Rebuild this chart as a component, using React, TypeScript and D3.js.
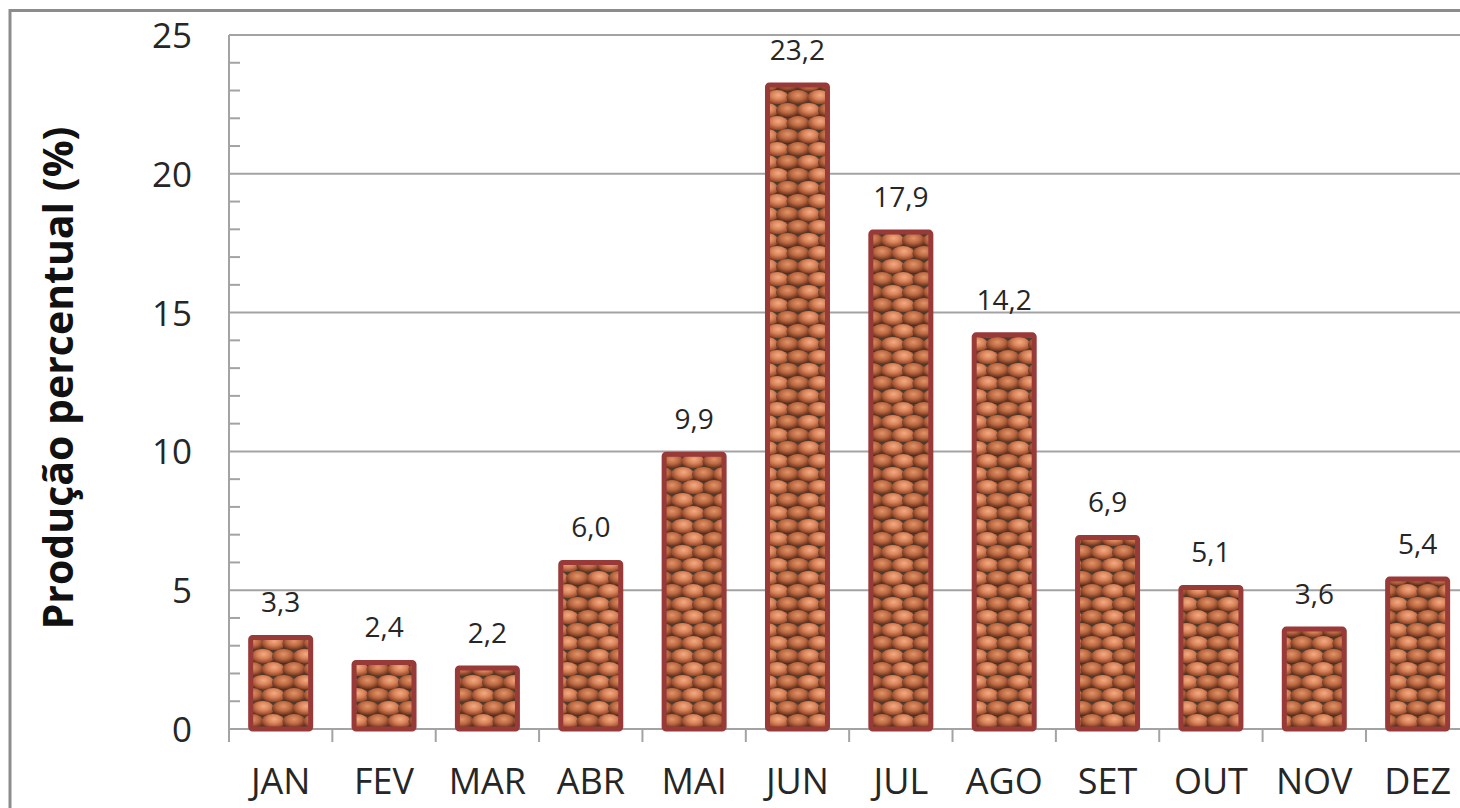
import React from "react";
import * as d3 from "d3";

const months = ["JAN", "FEV", "MAR", "ABR", "MAI", "JUN", "JUL", "AGO", "SET", "OUT", "NOV", "DEZ"];
const values = [3.3, 2.4, 2.2, 6.0, 9.9, 23.2, 17.9, 14.2, 6.9, 5.1, 3.6, 5.4];
const yTicks = [0, 5, 10, 15, 20, 25];
const minorTicks = d3.range(0, 26, 1).filter((v) => v % 5 !== 0);
const yTitle = "Produção percentual (%)";

const W = 1460;
const H = 808;
const left = 229;
const top = 35;
const bottom = 729;
const band = 103.36;
const right = left + band * months.length;

export default function App() {
  const x = d3.scaleBand<string>().domain(months).range([left, right]).paddingInner(0).paddingOuter(0);
  const y = d3.scaleLinear().domain([0, 25]).range([bottom, top]);
  const bw = 60;
  const fmt = (v: number) => d3.format(".1f")(v).replace(".", ",");
  const font = "'Open Sans', 'Noto Sans', sans-serif";
  const textColor = "#262626";
  const grid = "#a3a3a3";
  const pw = 42;
  const ph = 26;
  const rx = 11.5;
  const ry = 7.6;

  return (
    <svg width={W} height={H} style={{ position: "absolute", left: 0, top: 0, background: "#fff" }}>
      <defs>
        <radialGradient id="bean" cx="0.55" cy="0.35" r="0.7">
          <stop offset="0%" stopColor="#f4ab82" />
          <stop offset="40%" stopColor="#d8835a" />
          <stop offset="75%" stopColor="#a0502f" />
          <stop offset="100%" stopColor="#3f2016" />
        </radialGradient>
        <radialGradient id="bean2" cx="0.5" cy="0.35" r="0.7">
          <stop offset="0%" stopColor="#e39468" />
          <stop offset="45%" stopColor="#bb6841" />
          <stop offset="80%" stopColor="#6f3620" />
          <stop offset="100%" stopColor="#2e1810" />
        </radialGradient>
        <pattern id="beans" patternUnits="userSpaceOnUse" width={pw} height={ph}>
          <rect width={pw} height={ph} fill="#4d3a2e" />
          <ellipse cx={pw / 4} cy={ph / 4} rx={rx} ry={ry} fill="url(#bean)" />
          <ellipse cx={(3 * pw) / 4} cy={ph / 4} rx={rx} ry={ry} fill="url(#bean2)" />
          <ellipse cx={0} cy={(3 * ph) / 4} rx={rx} ry={ry} fill="url(#bean2)" />
          <ellipse cx={pw / 2} cy={(3 * ph) / 4} rx={rx} ry={ry} fill="url(#bean)" />
          <ellipse cx={pw} cy={(3 * ph) / 4} rx={rx} ry={ry} fill="url(#bean2)" />
          <ellipse cx={pw / 4} cy={(5 * ph) / 4} rx={rx} ry={ry} fill="url(#bean)" />
          <ellipse cx={(3 * pw) / 4} cy={(5 * ph) / 4} rx={rx} ry={ry} fill="url(#bean2)" />
        </pattern>
      </defs>

      {/* outer chart border */}
      <rect x={10} y={10.5} width={W + 20} height={H + 20} fill="none" stroke="#8c8c8c" strokeWidth={3} />

      {/* gridlines */}
      {yTicks.map((t) => (
        <line key={"g" + t} x1={left} x2={right} y1={y(t)} y2={y(t)} stroke={grid} strokeWidth={2} />
      ))}
      {/* minor ticks */}
      {minorTicks.map((t) => (
        <line key={"m" + t} x1={left} x2={left + 11} y1={y(t)} y2={y(t)} stroke={grid} strokeWidth={2} />
      ))}
      {/* y axis */}
      <line x1={left} x2={left} y1={top} y2={bottom + 13} stroke={grid} strokeWidth={2} />
      {/* x category ticks */}
      {months.map((m, i) => (
        <line key={"xt" + m} x1={left + band * (i + 1)} x2={left + band * (i + 1)} y1={bottom} y2={bottom + 13} stroke={grid} strokeWidth={2} />
      ))}

      {/* bars */}
      {months.map((m, i) => {
        const cx = (x(m) as number) + x.bandwidth() / 2;
        return (
          <rect
            key={"b" + m}
            x={cx - bw / 2}
            y={y(values[i])}
            width={bw}
            height={y(0) - y(values[i])}
            fill="url(#beans)"
            stroke="#983a38"
            strokeWidth={5}
            rx={2}
          />
        );
      })}

      {/* data labels */}
      {months.map((m, i) => {
        const cx = (x(m) as number) + x.bandwidth() / 2;
        return (
          <text key={"l" + m} x={cx} y={y(values[i]) - 25} textAnchor="middle" fontFamily={font} fontSize={28} fill={textColor}>
            {fmt(values[i])}
          </text>
        );
      })}

      {/* y tick labels */}
      {yTicks.map((t) => (
        <text key={"yl" + t} x={192} y={y(t) + 13} textAnchor="end" fontFamily={font} fontSize={35} fill={textColor}>
          {t}
        </text>
      ))}

      {/* x labels */}
      {months.map((m) => (
        <text key={"xl" + m} x={(x(m) as number) + x.bandwidth() / 2} y={794} textAnchor="middle" fontFamily={font} fontSize={36} fill={textColor}>
          {m}
        </text>
      ))}

      {/* y title */}
      <text
        transform={`translate(73, 378) rotate(-90)`}
        textAnchor="middle"
        fontFamily={font}
        fontWeight="bold"
        fontSize={41}
        fill="#111"
      >
        {yTitle}
      </text>
    </svg>
  );
}
